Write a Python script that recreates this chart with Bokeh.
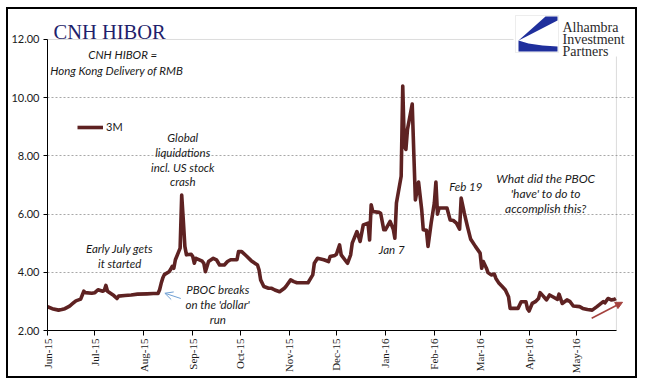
import math
from datetime import datetime
from bokeh.plotting import figure
from bokeh.models import (Range1d, FixedTicker, DatetimeTickFormatter, NumeralTickFormatter,
                          Label, Arrow, OpenHead, NormalHead, BoxAnnotation, PolyAnnotation)
from bokeh.embed import file_html
from bokeh.resources import INLINE

# ---------------- data ----------------
dates = [
    "2015-06-01", "2015-06-04", "2015-06-08", "2015-06-10", "2015-06-12", "2015-06-15", "2015-06-17",
    "2015-06-19", "2015-06-22", "2015-06-24", "2015-06-25", "2015-06-29", "2015-07-01", "2015-07-03",
    "2015-07-06", "2015-07-07", "2015-07-08", "2015-07-09", "2015-07-13", "2015-07-15", "2015-07-16",
    "2015-07-20", "2015-07-24", "2015-07-28", "2015-08-03", "2015-08-07", "2015-08-10", "2015-08-11",
    "2015-08-12", "2015-08-13", "2015-08-14", "2015-08-17", "2015-08-18", "2015-08-19", "2015-08-20",
    "2015-08-21", "2015-08-24", "2015-08-25", "2015-08-26", "2015-08-27", "2015-08-28", "2015-08-31",
    "2015-09-01", "2015-09-02", "2015-09-03", "2015-09-07", "2015-09-08", "2015-09-09", "2015-09-11",
    "2015-09-14", "2015-09-16", "2015-09-18", "2015-09-21", "2015-09-23", "2015-09-25", "2015-09-29",
    "2015-09-30", "2015-10-02", "2015-10-05", "2015-10-08", "2015-10-12", "2015-10-13", "2015-10-14",
    "2015-10-16", "2015-10-19", "2015-10-21", "2015-10-23", "2015-10-26", "2015-10-29", "2015-10-30",
    "2015-11-02", "2015-11-04", "2015-11-06", "2015-11-12", "2015-11-13", "2015-11-16", "2015-11-17",
    "2015-11-19", "2015-11-23", "2015-11-26", "2015-11-27", "2015-11-30", "2015-12-01", "2015-12-03",
    "2015-12-04", "2015-12-08", "2015-12-10", "2015-12-11", "2015-12-14", "2015-12-16", "2015-12-18",
    "2015-12-21", "2015-12-22", "2015-12-23", "2015-12-24", "2015-12-28", "2015-12-29", "2015-12-31",
    "2016-01-01", "2016-01-04", "2016-01-06", "2016-01-07", "2016-01-08", "2016-01-11", "2016-01-12",
    "2016-01-13", "2016-01-14", "2016-01-15", "2016-01-18", "2016-01-19", "2016-01-20", "2016-01-22",
    "2016-01-24", "2016-01-25", "2016-01-27", "2016-01-28", "2016-01-30", "2016-02-01", "2016-02-02",
    "2016-02-03", "2016-02-04", "2016-02-09", "2016-02-11", "2016-02-13", "2016-02-15", "2016-02-17",
    "2016-02-18", "2016-02-20", "2016-02-22", "2016-02-24", "2016-02-25", "2016-02-27", "2016-03-01",
    "2016-03-02", "2016-03-03", "2016-03-05", "2016-03-06", "2016-03-08", "2016-03-10", "2016-03-11",
    "2016-03-13", "2016-03-15", "2016-03-17", "2016-03-19", "2016-03-20", "2016-03-22", "2016-03-25",
    "2016-03-27", "2016-03-30", "2016-03-31", "2016-04-01", "2016-04-03", "2016-04-05", "2016-04-07",
    "2016-04-08", "2016-04-10", "2016-04-12", "2016-04-14", "2016-04-16", "2016-04-19", "2016-04-20",
    "2016-04-22", "2016-04-25", "2016-04-27", "2016-04-29", "2016-05-03", "2016-05-05", "2016-05-08",
    "2016-05-11", "2016-05-14", "2016-05-18", "2016-05-19", "2016-05-21", "2016-05-23", "2016-05-25",
    "2016-05-26",
]
hibor_3m = [
    2.82, 2.75, 2.70, 2.72, 2.75, 2.84, 2.93,
    3.02, 3.08, 3.35, 3.30, 3.28, 3.30, 3.40,
    3.35, 3.38, 3.55, 3.35, 3.20, 3.10, 3.18,
    3.20, 3.22, 3.25, 3.26, 3.27, 3.27, 3.40,
    3.62, 3.80, 3.92, 4.02, 4.10, 4.20, 4.14,
    4.43, 4.83, 6.65, 5.80, 4.89, 4.60, 4.62,
    4.54, 4.31, 4.48, 4.38, 4.31, 4.02, 4.37,
    4.48, 4.43, 4.25, 4.25, 4.37, 4.43, 4.43,
    4.71, 4.71, 4.56, 4.40, 4.25, 4.08, 3.74,
    3.51, 3.45, 3.45, 3.39, 3.33, 3.45, 3.51,
    3.74, 3.68, 3.64, 3.64, 3.64, 3.91, 4.31,
    4.48, 4.43, 4.37, 4.54, 4.58, 4.62, 4.94,
    4.60, 4.31, 4.60, 5.00, 5.40, 5.06, 5.63,
    5.69, 5.11, 6.32, 6.09, 6.06, 6.03, 5.46,
    5.46, 5.75, 5.48, 5.17, 6.38, 7.30, 10.40,
    8.33, 8.22, 8.91, 9.78, 8.10, 6.49, 7.10,
    6.15, 5.46, 5.44, 4.89, 5.69, 6.38, 7.10,
    6.00, 6.21, 6.21, 5.80, 5.78, 5.69, 5.48,
    6.55, 6.03, 5.57, 5.14, 5.06, 4.89, 4.66,
    4.14, 4.37, 4.14, 3.99, 3.91, 3.94, 3.79,
    3.62, 3.51, 3.39, 3.16, 2.76, 2.76, 2.76,
    2.99, 2.99, 2.75, 2.67, 2.93, 2.99, 3.10,
    3.30, 3.18, 3.05, 3.22, 3.16, 3.07, 3.25,
    2.93, 3.05, 2.99, 2.84, 2.82, 2.76, 2.72,
    2.70, 2.82, 2.99, 2.95, 3.10, 3.05, 3.07,
    3.10,
]
month_ticks = ["2015-06-01", "2015-07-01", "2015-08-01", "2015-09-01", "2015-10-01", "2015-11-01",
               "2015-12-01", "2016-01-01", "2016-02-01", "2016-03-01", "2016-04-01", "2016-05-01"]
y_ticks = [2, 4, 6, 8, 10, 12]
grid_ticks = [4, 6, 8, 10]
series_name = "3M"

EPOCH = datetime(1970, 1, 1)


def ms(d):
    if isinstance(d, str):
        d = datetime.fromisoformat(d)
    return (d - EPOCH).total_seconds() * 1000.0


x = [ms(d) for d in dates]

X_START = ms("2015-06-01")
X_DATA_END = ms(datetime(2016, 5, 26, 8))   # right edge of the chart area
X_VIEW_END = ms(datetime(2016, 6, 7, 10))   # canvas continues to the outer frame (logo / arrow)
Y_MIN, Y_MAX, Y_VIEW_MAX = 2, 12, 13.03

# ---------------- figure ----------------
p = figure(frame_width=588, frame_height=321, x_axis_type="datetime",
           output_backend="svg", toolbar_location=None,
           min_border_left=39, min_border_right=0, min_border_top=0, min_border_bottom=46,
           x_range=Range1d(X_START, X_VIEW_END), y_range=Range1d(Y_MIN, Y_VIEW_MAX))
p.margin = (9, 0, 0, 8)
p.styles = {"box-shadow": "0 0 0 2px #000000"}
p.background_fill_color = "white"
p.border_fill_color = "white"
p.outline_line_color = None

p.xgrid.visible = False
p.ygrid.ticker = FixedTicker(ticks=grid_ticks)
p.ygrid.grid_line_color = "#a8a8a8"
p.ygrid.grid_line_dash = "2 2"
p.ygrid.grid_line_width = 1
p.ygrid.bounds = (X_START, X_DATA_END)

p.yaxis.ticker = FixedTicker(ticks=y_ticks)
p.yaxis.bounds = (Y_MIN, Y_MAX)
p.yaxis.formatter = NumeralTickFormatter(format="0.00")
p.yaxis.major_label_text_font = "Lato"
p.yaxis.major_label_text_font_size = "11px"
p.yaxis.major_label_text_color = "#1a1a1a"
p.yaxis.minor_tick_line_color = None
p.yaxis.major_tick_out = 4
p.yaxis.major_tick_in = 0
p.yaxis.axis_line_color = "black"
p.yaxis.major_label_standoff = 4

p.xaxis.ticker = FixedTicker(ticks=[ms(d) for d in month_ticks])
p.xaxis.bounds = (X_START, X_DATA_END)
fmt = "%b-%y"
p.xaxis.formatter = DatetimeTickFormatter(milliseconds=fmt, seconds=fmt, minsec=fmt, minutes=fmt,
                                          hourmin=fmt, hours=fmt, days=fmt, months=fmt, years=fmt)
p.xaxis.major_label_orientation = math.pi / 2
p.xaxis.major_label_text_font = "Liberation Serif"
p.xaxis.major_label_text_font_size = "11px"
p.xaxis.major_label_text_color = "#1a1a1a"
p.xaxis.minor_tick_line_color = None
p.xaxis.major_tick_out = 5
p.xaxis.major_tick_in = 0
p.xaxis.axis_line_color = "black"
p.xaxis.major_label_standoff = 3

# chart-area border (grey top / right edge)
p.add_layout(BoxAnnotation(left=X_START, right=X_DATA_END, bottom=Y_MIN, top=Y_MAX,
                           fill_alpha=0, line_color="#8c8c8c", line_width=1, level="underlay"))

line = p.line(x, hibor_3m, line_color="#5e2222", line_width=3.6, line_join="round",
              legend_label=series_name)

lg = p.legend[0]
lg.location = (30, 197)
lg.background_fill_alpha = 0
lg.border_line_alpha = 0
lg.padding = 0
lg.margin = 0
lg.spacing = 0
lg.glyph_width = 26
lg.glyph_height = 10
lg.label_height = 10
lg.label_standoff = 3
lg.label_text_font = "Lato"
lg.label_text_font_size = "11px"
lg.label_text_color = "#1a1a1a"

# ---------------- annotations ----------------
TXT = "#1a1a1a"


def note(text, d, v, size="11.5px"):
    p.add_layout(Label(x=ms(d), y=v, text=text, text_align="center", text_baseline="middle",
                       text_font="Lato", text_font_style="italic", text_font_size=size,
                       text_color=TXT))


note("CNH HIBOR =", datetime(2015, 7, 18, 16), 11.50)
note("Hong Kong Delivery of RMB", datetime(2015, 7, 14, 20), 10.95)
for t, v in [("Global", 8.64), ("liquidations", 8.13), ("incl. US stock", 7.61), ("crash", 7.13)]:
    note(t, datetime(2015, 8, 25, 16), v)
for t, v in [("Early July gets", 4.83), ("it started", 4.31)]:
    note(t, datetime(2015, 7, 16, 18), v)
for t, v in [("PBOC breaks", 3.42), ("on the 'dollar'", 2.90), ("run", 2.39)]:
    note(t, datetime(2015, 9, 16, 20), v)
note("Jan 7", datetime(2016, 1, 5), 4.79)
note("Feb 19", datetime(2016, 2, 20, 22), 6.96)
for t, v in [("What did the PBOC", 7.24), ("'have' to do to", 6.72), ("accomplish this?", 6.20)]:
    note(t, datetime(2016, 4, 11, 14), v, size="12px")

p.add_layout(Arrow(x_start=ms(datetime(2015, 8, 24, 10)), y_start=3.10,
                   x_end=ms(datetime(2015, 8, 14, 8)), y_end=3.28,
                   line_color="#6f9fd3", line_width=1,
                   end=OpenHead(size=8, line_color="#6f9fd3", line_width=1)))
p.add_layout(Arrow(x_start=ms(datetime(2016, 5, 10, 16)), y_start=2.42,
                   x_end=ms(datetime(2016, 5, 30, 5)), y_end=2.97,
                   line_color="#a4413d", line_width=1.5,
                   end=NormalHead(size=7, fill_color="#a4413d", line_color="#a4413d")))

# title and logo (screen units, relative to the plot frame)
FX, FY = 47, 330  # page position of frame left / frame bottom


def sx(px):
    return px - FX


def sy(py):
    return FY - py


p.add_layout(Label(x=sx(53), y=sy(31), x_units="screen", y_units="screen", text="CNH HIBOR",
                   text_font="Liberation Serif", text_font_size="20.5px", text_color="#1f1f6b",
                   text_baseline="alphabetic"))
scr = dict(left_units="screen", right_units="screen", top_units="screen", bottom_units="screen")
p.add_layout(BoxAnnotation(left=sx(513), right=sx(640), top=sy(4), bottom=sy(56),
                           fill_color="white", fill_alpha=1, line_alpha=0, level="overlay", **scr))
p.add_layout(BoxAnnotation(left=sx(515), right=sx(558), top=sy(15), bottom=sy(52),
                           fill_alpha=0, line_color="#c4c4c4", line_width=1, level="overlay", **scr))
blue = "#1f2f9c"
p.add_layout(PolyAnnotation(xs=[sx(v) for v in [545, 557, 557, 524, 518]],
                            ys=[sy(v) for v in [16, 16, 20, 37, 40]],
                            xs_units="screen", ys_units="screen", fill_color=blue, fill_alpha=1,
                            line_alpha=0, level="overlay"))
p.add_layout(PolyAnnotation(xs=[sx(v) for v in [518, 528, 542, 557, 557, 518]],
                            ys=[sy(v) for v in [40, 43, 45, 46, 51, 51]],
                            xs_units="screen", ys_units="screen", fill_color=blue, fill_alpha=1,
                            line_alpha=0, level="overlay"))
for t, py in [("Alhambra", 27), ("Investment", 39), ("Partners", 50.5)]:
    p.add_layout(Label(x=sx(562), y=sy(py), x_units="screen", y_units="screen", text=t,
                       text_font="Liberation Serif", text_font_size="14px", text_color="#2a2a2a",
                       text_baseline="alphabetic", level="overlay"))

open("out.html", "w").write(file_html(p, INLINE))
